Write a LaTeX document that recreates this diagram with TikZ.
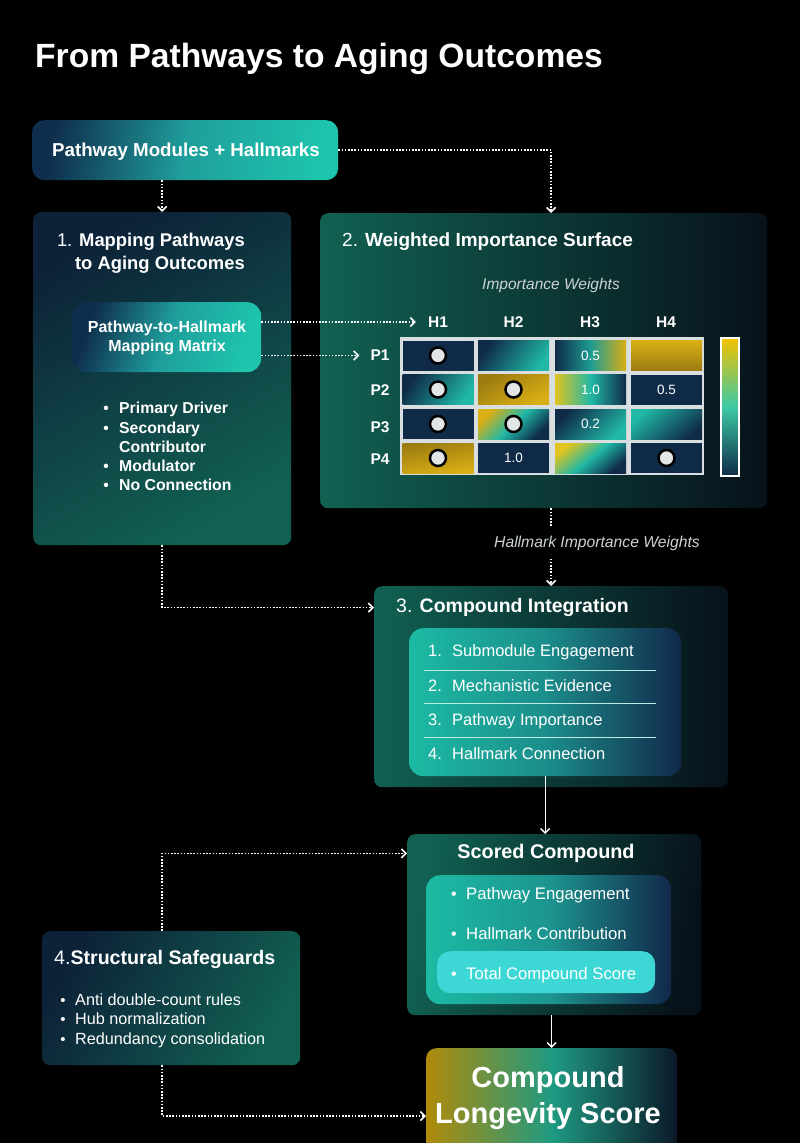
\documentclass[tikz,border=0pt]{standalone}
\usepackage{fontspec}
\setmainfont{Liberation Sans}
\usetikzlibrary{arrows.meta,calc}
\definecolor{cnavy}{HTML}{0F2B48}
\definecolor{cteal}{HTML}{21B8A6}
\definecolor{cgold}{HTML}{D9AF15}
\definecolor{cgoldd}{HTML}{9C7C10}
\definecolor{cyel}{HTML}{E0C420}
\definecolor{cgrid}{HTML}{D9DEE0}
\definecolor{clabel}{HTML}{CDD3D4}
\definecolor{cdotf}{HTML}{E3E6E7}
\definecolor{chigh}{HTML}{3DD8D6}
\definecolor{pdark}{HTML}{0D2238}
\definecolor{pteal}{HTML}{116152}
\definecolor{pblack}{HTML}{07111A}
\definecolor{bnavy}{HTML}{0F2D4C}
\definecolor{bmid}{HTML}{1F9E9C}
\definecolor{bteal}{HTML}{1EC4AC}
\definecolor{lnavy}{HTML}{11284A}
\definecolor{fgold}{HTML}{B08A0A}
\definecolor{fteal}{HTML}{1F9A82}
\definecolor{fdark}{HTML}{0B1827}
\definecolor{cbtop}{HTML}{F2C200}
\definecolor{cbmid}{HTML}{3CC9A5}
\newcommand{\fsz}[1]{\fontsize{#1}{#1}\selectfont}
\begin{document}
\begin{tikzpicture}[x=1pt,y=-1pt,
  box/.style={anchor=north west, inner sep=0pt, rounded corners=#1},
  box/.default=8pt,
  tx/.style={inner sep=0pt, text=white},
  dotline/.style={draw=white, line width=1.6pt, dash pattern=on 1.6pt off 1.6pt},
  dotarrow/.style={dotline, -{Straight Barb[length=4.5pt,width=9pt,line width=1.6pt]}},
  solidarrow/.style={draw=white, line width=1.3pt, -{Straight Barb[length=4.5pt,width=9pt,line width=1.4pt]}},
  cell/.style={inner sep=0pt, minimum width=71pt, minimum height=30pt, text=white, font=\fsz{13.5}},
  pdot/.style={circle, fill=cdotf, draw=black, line width=2.5pt, minimum size=16pt, inner sep=0pt},
  sepline/.style={draw=white!70!cteal, line width=0.9pt}
]
\useasboundingbox[fill=black] (0,0) rectangle (800,1143);

% title
\node[tx, anchor=base west, font=\fsz{33.6}\bfseries] (title) at (35,67) {From Pathways to Aging Outcomes};

% top box
\node[box=12pt, minimum width=306pt, minimum height=60pt, left color=bnavy, right color=bteal, middle color=bmid, shading angle=80] (top) at (32,120) {};
\node[tx, anchor=base, font=\fsz{18.7}\bfseries] (toptext) at (186,156.5) {Pathway Modules + Hallmarks};

% panel 1
\node[box, minimum width=258pt, minimum height=333pt, top color=pdark, bottom color=pteal, shading angle=30] (p1) at (33,212) {};
\node[tx, anchor=base east, font=\fsz{18.4}] (p1ta) at (245,246.5) {1. \textbf{Mapping Pathways}};
\node[tx, anchor=base east, font=\fsz{18.4}\bfseries] (p1tb) at (245,269.5) {to Aging Outcomes};
\node[box=14pt, minimum width=189pt, minimum height=70pt, left color=bnavy, right color=bteal, middle color=bmid, shading angle=70] (mm) at (72,302) {};
\node[tx, anchor=base, font=\fsz{16}\bfseries] (mma) at (167,332.5) {Pathway-to-Hallmark};
\node[tx, anchor=base, font=\fsz{16}\bfseries] (mmb) at (167,351.5) {Mapping Matrix};
\node[tx, anchor=base, font=\fsz{15.5}\bfseries] (b1) at (106,413.5) {•};
\node[tx, anchor=base west, font=\fsz{15.8}\bfseries] (l1) at (119,413.5) {Primary Driver};
\node[tx, anchor=base, font=\fsz{15.5}\bfseries] (b2) at (106,433) {•};
\node[tx, anchor=base west, font=\fsz{15.8}\bfseries] (l2) at (119,433) {Secondary};
\node[tx, anchor=base west, font=\fsz{15.8}\bfseries] (l2b) at (119,452) {Contributor};
\node[tx, anchor=base, font=\fsz{15.5}\bfseries] (b3) at (106,471.5) {•};
\node[tx, anchor=base west, font=\fsz{15.8}\bfseries] (l3) at (119,471.5) {Modulator};
\node[tx, anchor=base, font=\fsz{15.5}\bfseries] (b4) at (106,490.5) {•};
\node[tx, anchor=base west, font=\fsz{15.8}\bfseries] (l4) at (119,490.5) {No Connection};

% panel 2
\node[box, minimum width=447pt, minimum height=295pt, left color=pteal, right color=pblack] (p2) at (320,213) {};
\node[tx, anchor=base west, font=\fsz{19}] (p2t) at (342,246.5) {2. \textbf{Weighted Importance Surface}};
\node[tx, anchor=base, font=\fsz{15.5}\itshape, text=clabel] (iw) at (551,289) {Importance Weights};
\foreach \n/\x in {1/438,2/513.5,3/590,4/666}
  \node[tx, font=\fsz{15.5}\bfseries] (h\n) at (\x,322) {H\n};
\foreach \n/\y in {1/355.5,2/390,3/427,4/459}
  \node[tx, font=\fsz{15.5}\bfseries] (r\n) at (380,\y) {P\n};
\node[anchor=north west, inner sep=0pt, minimum width=304pt, minimum height=138pt, fill=cgrid] (grid) at (400,337) {};
% row 1
\node[cell, fill=cnavy] (c11) at (438,355.5) {};
\node[cell, top color=cnavy, bottom color=cteal, shading angle=55] (c12) at (513.5,355.5) {};
\node[cell, left color=cnavy, right color=cgold, middle color=cteal!80!cnavy] (c13) at (590.5,355.5) {0.5};
\node[cell, top color=cgold, bottom color=cgoldd] (c14) at (666.5,355.5) {};
% row 2
\node[cell, top color=cnavy, bottom color=cteal, shading angle=55] (c21) at (438,389.5) {};
\node[cell, top color=cgoldd, bottom color=cgold, shading angle=30] (c22) at (513.5,389.5) {};
\node[cell, left color=cyel, right color=cnavy, middle color=cteal] (c23) at (590.5,389.5) {1.0};
\node[cell, fill=cnavy] (c24) at (666.5,389.5) {0.5};
% row 3
\node[cell, fill=cnavy] (c31) at (438,424) {};
\node[cell, top color=cgold, bottom color=cnavy, middle color=cteal, shading angle=45] (c32) at (513.5,424) {};
\node[cell, top color=cnavy, bottom color=cteal, shading angle=45] (c33) at (590.5,424) {0.2};
\node[cell, top color=cteal, bottom color=cnavy, shading angle=40] (c34) at (666.5,424) {};
% row 4
\node[cell, top color=cgoldd, bottom color=cgold, shading angle=10] (c41) at (438,458) {};
\node[cell, fill=cnavy] (c42) at (513.5,458) {1.0};
\node[cell, top color=cyel, bottom color=cnavy, middle color=cteal, shading angle=40] (c43) at (590.5,458) {};
\node[cell, fill=cnavy] (c44) at (666.5,458) {};
\foreach \c in {c11,c21,c31,c41,c22,c32,c44}
  \node[pdot] (d\c) at (\c) {};
\node[anchor=north west, inner sep=0pt, minimum width=18pt, minimum height=138pt, draw=white, line width=2.2pt, top color=cbtop, bottom color=cnavy, middle color=cbmid] (cbar) at (720,337) {};

% panel 3
\node[box, minimum width=354pt, minimum height=201pt, left color=pteal, right color=pblack] (p3) at (374,586) {};
\node[tx, anchor=base west, font=\fsz{19.5}] (p3t) at (396,612.5) {3. \textbf{Compound Integration}};
\node[box=14pt, minimum width=272pt, minimum height=148pt, left color=bteal!95!black, right color=lnavy, middle color=cteal!70!bnavy] (lst) at (409,628) {};
\foreach \n/\t/\y in {1/Submodule Engagement/656.5, 2/Mechanistic Evidence/691.5, 3/Pathway Importance/725.5, 4/Hallmark Connection/759.5}{
  \node[tx, anchor=base west, font=\fsz{16.5}] (n\n) at (428,\y) {\n.};
  \node[tx, anchor=base west, font=\fsz{16.5}] (i\n) at (452,\y) {\t};
}
\draw[sepline] (424,670) -- (656,670);
\draw[sepline] (424,703.5) -- (656,703.5);
\draw[sepline] (424,737) -- (656,737);

\node[tx, inner sep=8pt, font=\fsz{15.7}\itshape, text=clabel] (hiw) at (597,543) {Hallmark Importance Weights};

% scored compound
\node[box, minimum width=294pt, minimum height=181pt, left color=pteal, right color=pblack, shading angle=80] (sc) at (407,834) {};
\node[tx, anchor=base, font=\fsz{19.8}\bfseries] (sct) at (546,858.5) {Scored Compound};
\node[box=14pt, minimum width=245pt, minimum height=129pt, left color=bteal!95!black, right color=lnavy, middle color=cteal!75!bnavy] (sci) at (426,875) {};
\node[box=13pt, minimum width=218pt, minimum height=42pt, fill=chigh] (hl) at (437,951) {};
\foreach \n/\t/\y in {1/Pathway Engagement/899.5, 2/Hallmark Contribution/939.5, 3/Total Compound Score/979.5}{
  \node[tx, anchor=base, font=\fsz{16}] (sb\n) at (454,\y) {•};
  \node[tx, anchor=base west, font=\fsz{16.7}] (s\n) at (466,\y) {\t};
}

% panel 4
\node[box, minimum width=258pt, minimum height=134pt, left color=pdark, right color=pteal, shading angle=60] (p4) at (42,931) {};
\node[tx, anchor=base west, font=\fsz{19.6}] (p4t) at (54,964.5) {4.\textbf{Structural Safeguards}};
\foreach \n/\t/\y in {1/Anti double-count rules/1005, 2/Hub normalization/1024.5, 3/Redundancy consolidation/1044}{
  \node[tx, anchor=base, font=\fsz{15}] (fb\n) at (63,\y) {•};
  \node[tx, anchor=base west, font=\fsz{16.2}] (f\n) at (75,\y) {\t};
}

% final
\node[box=10pt, minimum width=251pt, minimum height=104pt, left color=fgold, right color=fdark, middle color=fteal] (fin) at (426,1048) {};
\node[tx, anchor=base, font=\fsz{29}\bfseries] (fa) at (548,1087.5) {Compound};
\node[tx, anchor=base, font=\fsz{29}\bfseries] (fbb) at (548,1123.5) {Longevity Score};

% connectors
\draw[dotarrow] (top.south -| p1.north) -- (p1.north);
\draw[dotarrow] (top.east) -| (p3.north |- p2.north);
\draw[dotarrow] (mm.east |- h1) -- ([xshift=-12pt]h1.west);
\draw[dotarrow] (mm.east |- r1) -- ([xshift=-11pt]r1.west);
\draw[dotline] (p3.north |- p2.south) -- (p3.north |- hiw.north);
\draw[dotarrow] (p3.north |- hiw.south) -- (p3.north);
\draw[dotarrow] (p1.south) |- (p3.west |- p3t);
\draw[solidarrow] (lst.south) -- (lst.south |- sc.north);
\draw[solidarrow] (fin.north |- sc.south) -- (fin.north);
\draw[dotarrow] ([xshift=-9pt]p4.north) |- (sc.west |- sct);
\draw[dotarrow] ([xshift=-9pt]p4.south) |- (fin.west |- fbb);
\end{tikzpicture}
\end{document}
